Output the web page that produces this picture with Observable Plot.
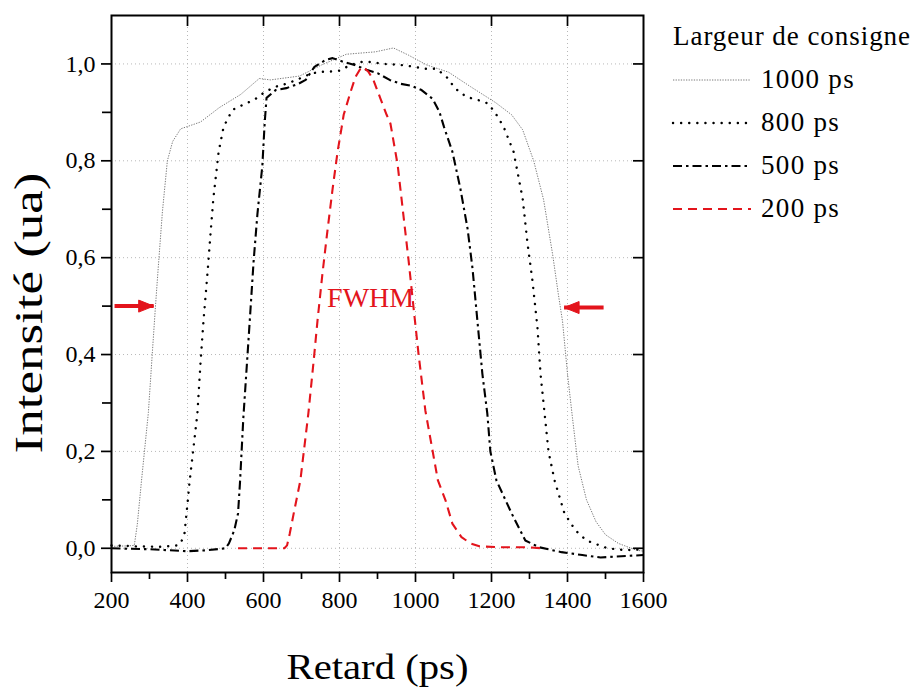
<!DOCTYPE html>
<html><head><meta charset="utf-8">
<script src="https://cdn.jsdelivr.net/npm/d3@7"></script>
<script src="https://cdn.jsdelivr.net/npm/@observablehq/plot@0.6"></script>
<style>
body{margin:0;background:#fff;}
#wrap{position:relative;width:914px;height:689px;font-family:"Liberation Serif",serif;color:#000;}
.lg{position:absolute;white-space:nowrap;font-family:"Liberation Serif",serif;}
</style></head><body><div id="wrap"></div>
<script>
const FONT = "'Liberation Serif', 'DejaVu Serif', serif";
const seriesNames = ["1000 ps","800 ps","500 ps","200 ps"];
const legendTitle = "Largeur de consigne";
const xTitle = "Retard (ps)";
const yTitle = "Intensité (ua)";

const s1000 = [[200,0.004],[245,0.005],[260,0.006],[268,0.05],[279,0.14],[297,0.28],[308,0.41],[316,0.503],[324,0.59],[334,0.695],[347,0.8],[361,0.84],[382,0.866],[434,0.88],[484,0.91],[540,0.937],[589,0.97],[618,0.967],[695,0.975],[753,0.998],[818,1.02],[895,1.025],[942,1.033],[982,1.018],[1029,0.998],[1087,0.983],[1145,0.953],[1211,0.92],[1253,0.895],[1282,0.864],[1311,0.8],[1337,0.72],[1361,0.606],[1376,0.524],[1387,0.468],[1400,0.36],[1413,0.27],[1428,0.17],[1450,0.1],[1475,0.055],[1500,0.028],[1534,0.01],[1582,-0.004],[1600,-0.006]];

const s800 = [[200,0.006],[260,0.004],[330,0.003],[375,0.006],[382,0.01],[392,0.03],[401,0.1],[405,0.134],[426,0.278],[434,0.38],[442,0.469],[453,0.572],[461,0.654],[468,0.722],[482,0.819],[495,0.87],[518,0.905],[547,0.916],[576,0.926],[603,0.942],[632,0.953],[660,0.959],[687,0.967],[716,0.977],[745,0.984],[773,0.984],[800,0.986],[829,0.998],[858,1.004],[884,1.004],[913,1.0],[942,0.999],[971,0.997],[997,0.994],[1026,0.99],[1055,0.99],[1082,0.973],[1105,0.949],[1134,0.932],[1163,0.926],[1192,0.918],[1213,0.895],[1232,0.87],[1258,0.819],[1282,0.722],[1295,0.628],[1308,0.551],[1321,0.455],[1329,0.36],[1339,0.284],[1350,0.2],[1366,0.14],[1392,0.072],[1421,0.037],[1450,0.016],[1505,0.0],[1553,-0.004],[1600,-0.002]];

const s500 = [[200,0.0],[300,-0.002],[400,-0.006],[452,-0.004],[500,0.0],[509,0.01],[523,0.037],[533,0.072],[538,0.134],[547,0.27],[558,0.40],[566,0.496],[574,0.593],[584,0.69],[597,0.79],[603,0.877],[608,0.93],[632,0.946],[660,0.95],[692,0.959],[711,0.967],[734,0.994],[763,1.008],[782,1.012],[811,1.004],[840,0.998],[871,0.988],[900,0.981],[932,0.967],[961,0.959],[989,0.955],[1016,0.946],[1045,0.928],[1063,0.901],[1075,0.87],[1097,0.819],[1118,0.743],[1137,0.66],[1150,0.578],[1163,0.469],[1176,0.36],[1189,0.278],[1197,0.2],[1213,0.14],[1253,0.072],[1289,0.016],[1326,0.002],[1384,-0.008],[1439,-0.014],[1487,-0.019],[1553,-0.016],[1600,-0.014]];

const s200 = [[533,0.0],[600,0.0],[655,0.0],[662,0.006],[669,0.03],[679,0.07],[697,0.14],[718,0.278],[732,0.387],[742,0.469],[755,0.566],[768,0.654],[782,0.743],[795,0.819],[805,0.866],[811,0.895],[829,0.942],[842,0.973],[855,0.99],[862,0.994],[876,0.984],[889,0.967],[908,0.928],[924,0.895],[934,0.877],[953,0.792],[968,0.689],[982,0.593],[995,0.496],[1008,0.401],[1026,0.284],[1059,0.14],[1079,0.099],[1097,0.051],[1121,0.023],[1145,0.01],[1168,0.004],[1234,0.002],[1300,0.002],[1332,0.0]];

const seriesData = [s1000, s800, s500, s200];

const xTicks = [200,400,600,800,1000,1200,1400,1600];
const xMinor = [300,500,700,900,1100,1300,1500];
const yTicks = [0,0.2,0.4,0.6,0.8,1.0];
const yMinor = [0.1,0.3,0.5,0.7,0.9];

// FWHM arrows: tail x, tip x, level
const arrowTail = [208, 1495];
const arrowTip = [311, 1391];
const arrowY = [0.5, 0.497];
const noteText = ["FWHM"];
const noteX = [882];
const noteY = [0.516];

const RED = "#e3141c";
const styles = [
  {stroke:"#6a6a6a", strokeWidth:0.9, strokeDasharray:"1.3,1.3"},
  {stroke:"#000", strokeWidth:2.4, strokeDasharray:"0.1,8"},
  {stroke:"#000", strokeWidth:2.1, strokeDasharray:"9,4,2.5,4"},
  {stroke:RED, strokeWidth:2.1, strokeDasharray:"9,6"}
];

const W = 914, H = 689, mL = 111, mR = 271, mT = 15, mB = 117;
const plotW = W - mL - mR, plotH = H - mT - mB;

const lineMarks = seriesData.map((s, i) =>
  Plot.line(s, {x: d => d[0], y: d => d[1], ...styles[i], strokeLinecap: i === 1 ? "round" : "butt"})
);

const arrows = arrowTail.map((t, i) => ({tail: t, tip: arrowTip[i], y: arrowY[i], dir: Math.sign(arrowTip[i] - t)}));
const headR = {draw(c){ c.moveTo(0,0); c.lineTo(-15,-6); c.lineTo(-15,6); c.closePath(); }};
const headL = {draw(c){ c.moveTo(0,0); c.lineTo(15,-6); c.lineTo(15,6); c.closePath(); }};
const notes = noteText.map((t, i) => ({text: t, x: noteX[i], y: noteY[i]}));

const plot = Plot.plot({
  width: W, height: H,
  marginLeft: mL, marginRight: mR, marginTop: mT, marginBottom: mB,
  x: {domain: [200, 1600]},
  y: {domain: [-0.05, 1.1]},
  style: {fontFamily: FONT, fontSize: "24px", color: "#000", background: "#fff", overflow: "visible"},
  marks: [
    Plot.gridX(xTicks.slice(1, -1), {stroke: "#b8b8b8", strokeOpacity: 1, strokeDasharray: "1,3"}),
    Plot.gridY(yTicks, {stroke: "#b8b8b8", strokeOpacity: 1, strokeDasharray: "1,3"}),
    ...lineMarks,
    Plot.frame({stroke: "#000", strokeWidth: 2}),
    Plot.axisX(xTicks, {tickSize: 10, tickPadding: 8, strokeWidth: 1.7, fontSize: 24, fontFamily: FONT, tickFormat: d => String(d), label: null}),
    Plot.axisX(xMinor, {tickSize: 7, tickFormat: () => "", strokeWidth: 1.7, label: null}),
    Plot.axisY(yTicks, {tickSize: 10, tickPadding: 6, strokeWidth: 1.7, fontSize: 24, fontFamily: FONT, tickFormat: d => d.toFixed(1).replace(".", ","), label: null}),
    Plot.axisY(yMinor, {tickSize: 9, tickFormat: () => "", strokeWidth: 1.7, label: null}),
    Plot.ruleX(xTicks.slice(1, -1), {insetBottom: plotH - 11, strokeWidth: 1.7}),
    Plot.ruleY(yTicks, {insetLeft: plotW - 10, strokeWidth: 1.7}),
    Plot.link(arrows, {x1: "tail", x2: "tip", y1: "y", y2: "y", stroke: RED, strokeWidth: 4}),
    Plot.dot(arrows.filter(a => a.dir > 0), {x: "tip", y: "y", symbol: headR, fill: RED, stroke: RED, strokeWidth: 1}),
    Plot.dot(arrows.filter(a => a.dir < 0), {x: "tip", y: "y", symbol: headL, fill: RED, stroke: RED, strokeWidth: 1}),
    Plot.text(notes, {x: "x", y: "y", text: "text", fill: RED, fontSize: 28, fontFamily: FONT}),
    Plot.text([xTitle], {text: d => d, frameAnchor: "bottom", textAnchor: "middle", dy: 106, fontSize: 35, fontFamily: FONT}),
    Plot.text([yTitle], {text: d => d, frameAnchor: "left", textAnchor: "middle", lineAnchor: "middle", dx: -83, dy: 19, rotate: -90, fontSize: 41, fontFamily: FONT})
  ]
});

const wrap = document.getElementById("wrap");
wrap.appendChild(plot);

// widen titles to the reference's text lengths (Palatino-like widths), keeping them centred
function stretch(label, target) {
  d3.select(plot).selectAll("text").filter(function () { return this.textContent === label; }).each(function () {
    const len = this.getComputedTextLength();
    if (!(len > 0)) return;
    const s = target / len;
    const t = this.getAttribute("transform");
    if (t) {
      this.setAttribute("transform", t + ` scale(${s},1)`);
    } else {
      const x = +this.getAttribute("x") || 0, y = +this.getAttribute("y") || 0;
      this.setAttribute("x", 0); this.setAttribute("y", 0);
      this.setAttribute("transform", `translate(${x},${y}) scale(${s},1)`);
    }
  });
}
stretch(xTitle, 182);
stretch(yTitle, 281);

function fitWidth(el, target) {
  const w = el.getBoundingClientRect().width;
  const n = el.textContent.length;
  const ls = (target - w) / n;
  el.style.letterSpacing = ls + "px";
  return ls;
}

const title = document.createElement("div");
title.className = "lg";
title.style.left = "673px"; title.style.top = "20px";
title.style.fontSize = "27px"; title.style.lineHeight = "32px";
title.textContent = legendTitle;
wrap.appendChild(title);
fitWidth(title, 238);

let rowLS = null;
seriesNames.forEach((name, i) => {
  const cy = 80 + i * 43;
  const ns = "http://www.w3.org/2000/svg";
  const svg = document.createElementNS(ns, "svg");
  svg.setAttribute("width", 84); svg.setAttribute("height", 12);
  svg.style.position = "absolute"; svg.style.left = "671px"; svg.style.top = (cy - 6) + "px";
  const ln = document.createElementNS(ns, "line");
  ln.setAttribute("x1", 2); ln.setAttribute("x2", 80); ln.setAttribute("y1", 6); ln.setAttribute("y2", 6);
  ln.setAttribute("stroke", styles[i].stroke);
  ln.setAttribute("stroke-width", styles[i].strokeWidth);
  ln.setAttribute("stroke-dasharray", styles[i].strokeDasharray);
  if (i === 1) ln.setAttribute("stroke-linecap", "round");
  svg.appendChild(ln);
  wrap.appendChild(svg);
  const lab = document.createElement("div");
  lab.className = "lg";
  lab.style.left = "761px"; lab.style.top = (cy - 17) + "px";
  lab.style.fontSize = "27px"; lab.style.lineHeight = "32px";
  lab.textContent = name;
  wrap.appendChild(lab);
  if (rowLS === null) rowLS = fitWidth(lab, 94);
  else lab.style.letterSpacing = rowLS + "px";
});
</script></body></html>
